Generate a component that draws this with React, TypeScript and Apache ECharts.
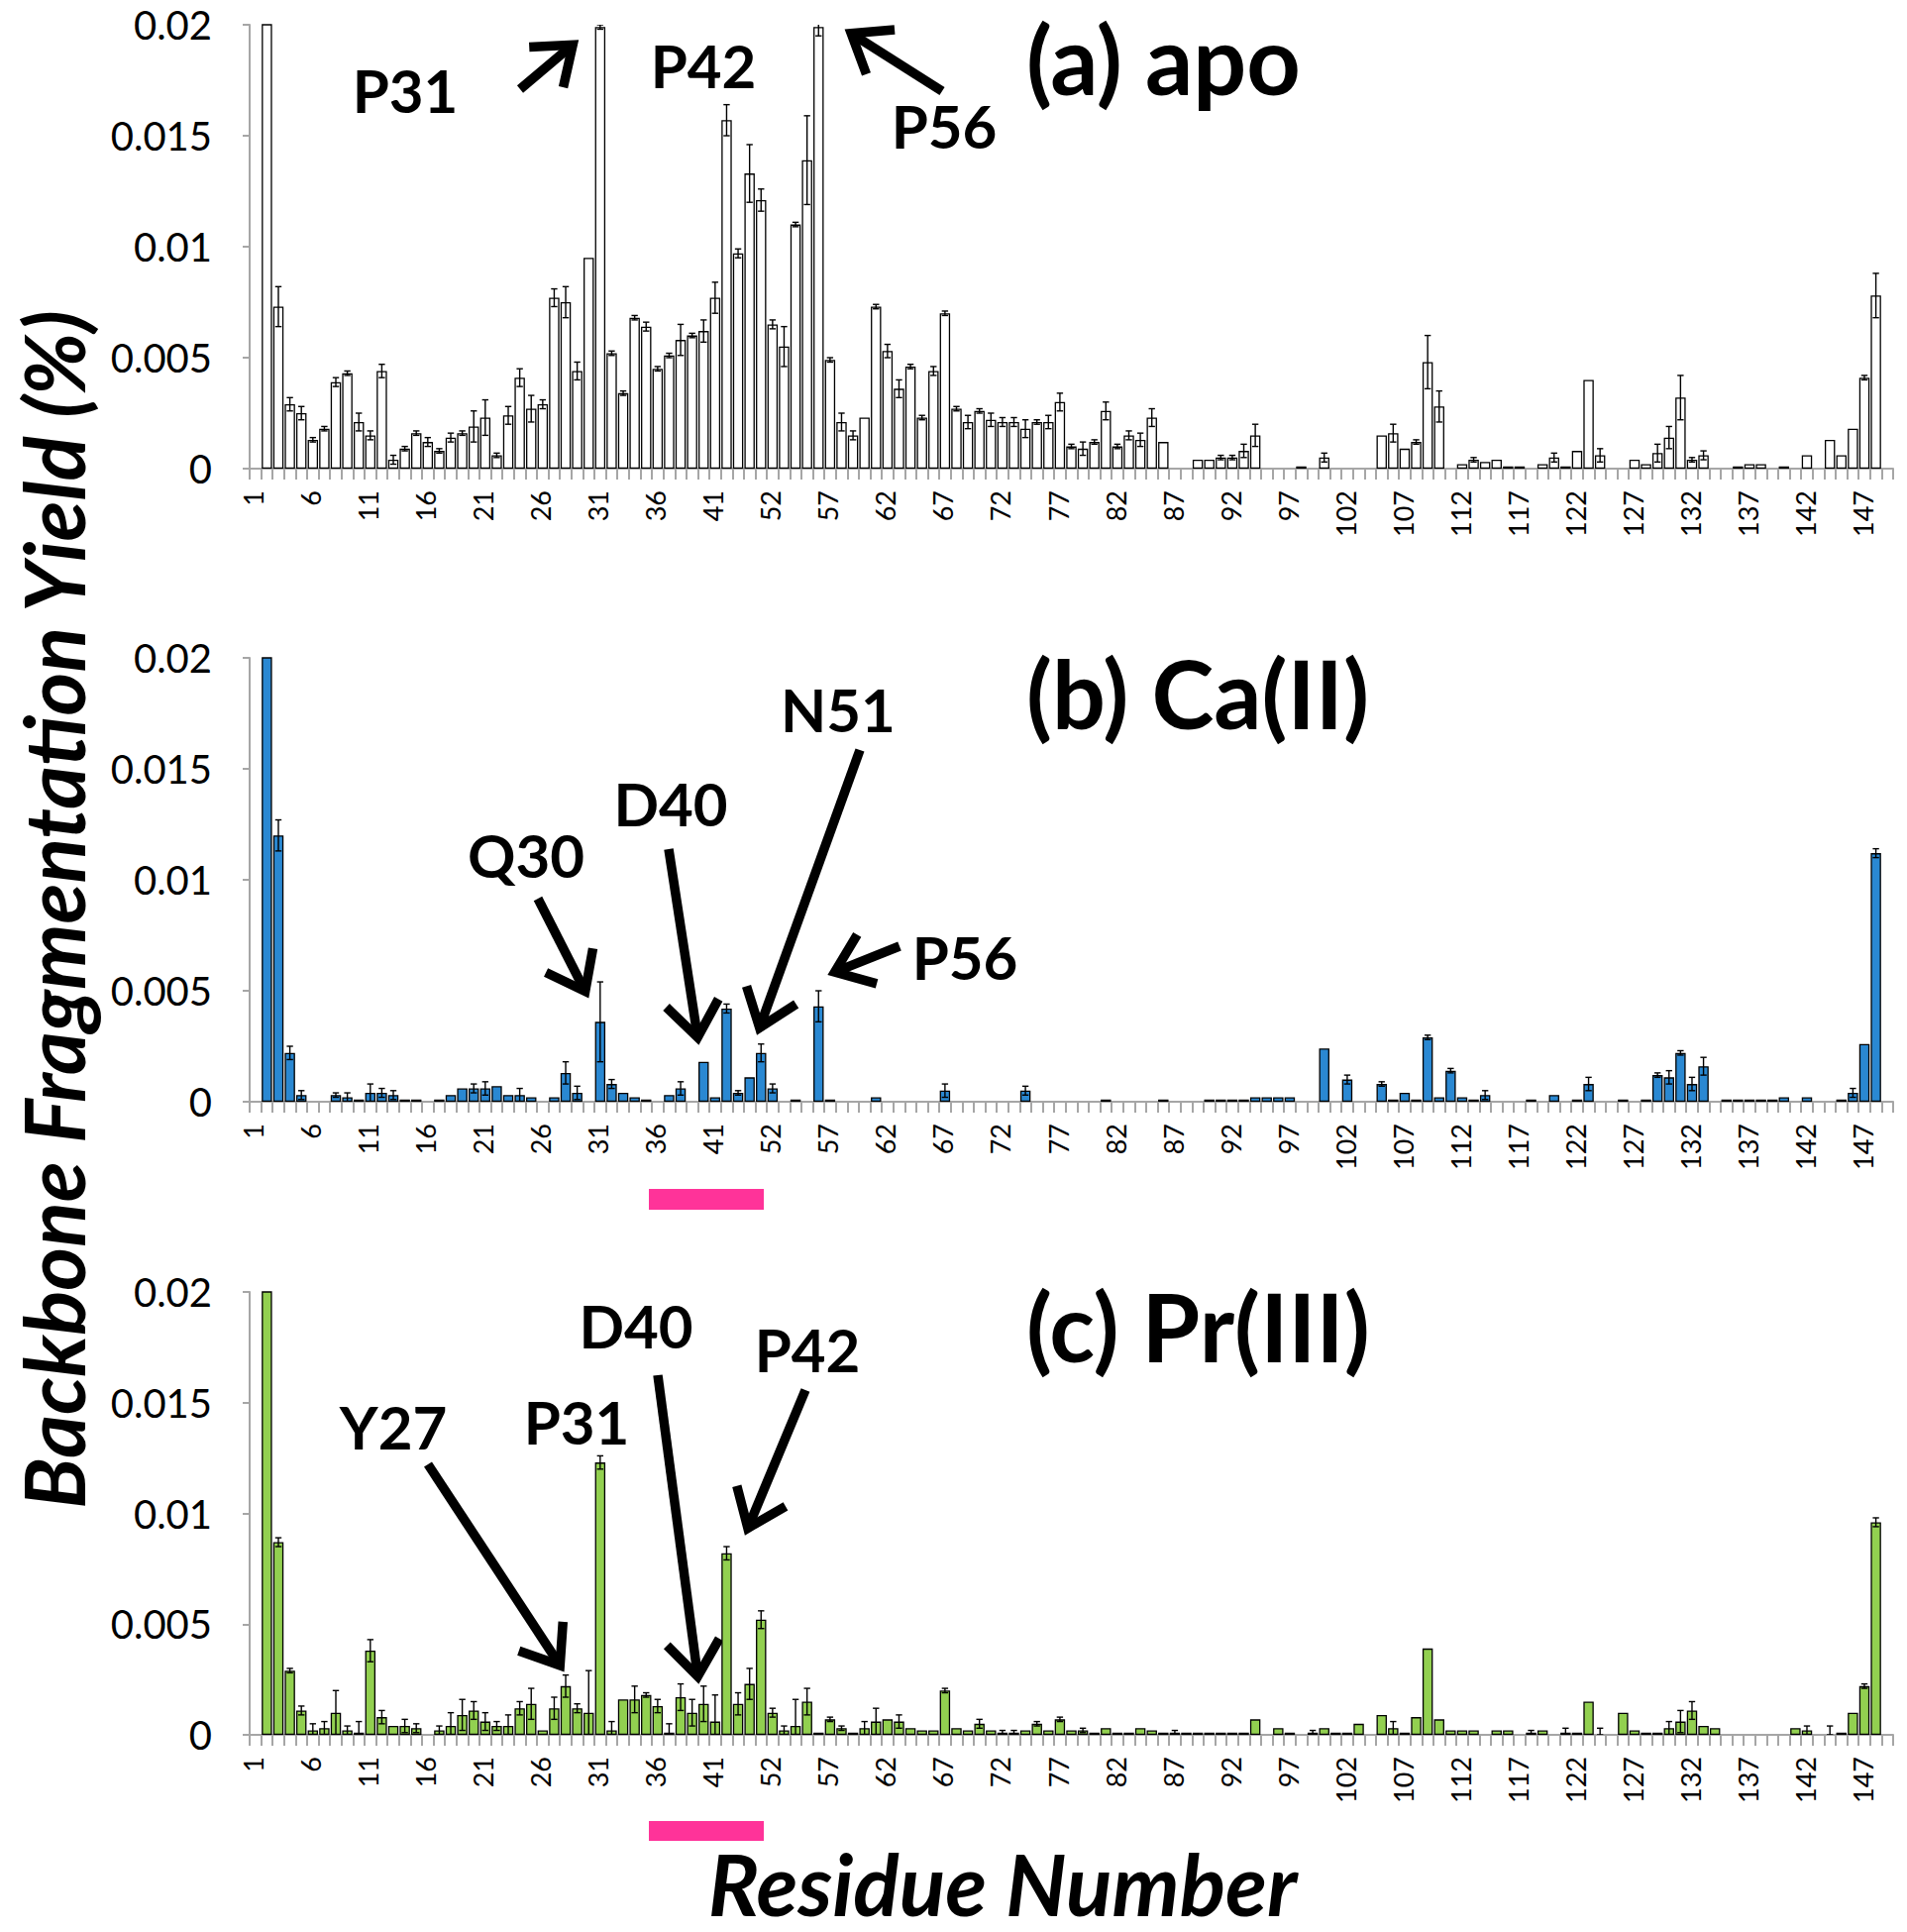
import React, { useEffect, useRef } from 'react';
import * as echarts from 'echarts';

// Residue numbering shown on the category axis (the axis has an empty slot before residue 1)
const residueRanges: number[][] = [[1, 45], [52, 148]];
const yTickLabels = ['0', '0.005', '0.01', '0.015', '0.02'];

// (a) apo — residues in axis order (141 bars)
const apoValues = [
  0.06, 0.0073, 0.0029, 0.0025, 0.0013, 0.0018, 0.0039, 0.0043, 0.0021, 0.0015,
  0.0044, 0.0004, 0.0009, 0.0016, 0.0012, 0.0008, 0.0014, 0.0016, 0.0019, 0.0023,
  0.0006, 0.0024, 0.0041, 0.0027, 0.0029, 0.0077, 0.0075, 0.0044, 0.0095, 0.0199,
  0.0052, 0.0034, 0.0068, 0.0064, 0.0045, 0.0051, 0.0058, 0.006, 0.0062, 0.0077,
  0.0157, 0.0097, 0.0133, 0.0121, 0.0065, 0.0055, 0.011, 0.0139, 0.0199, 0.0049,
  0.0021, 0.0015, 0.0023, 0.0073, 0.0053, 0.0036, 0.0046, 0.0023, 0.0044, 0.007,
  0.0027, 0.0021, 0.0026, 0.0022, 0.0021, 0.0021, 0.0018, 0.0021, 0.0021, 0.003,
  0.001, 0.0009, 0.0012, 0.0026, 0.001, 0.0015, 0.0013, 0.0023, 0.0012, 0,
  0, 0.0004, 0.0004, 0.0005, 0.0005, 0.0008, 0.0015, 0, 0, 0,
  0.0001, 0, 0.0005, 0, 0, 0, 0, 0.0015, 0.0016, 0.0009,
  0.0012, 0.0048, 0.0028, 0, 0.0002, 0.0004, 0.0003, 0.0004, 0.0001, 0.0001,
  0, 0.0002, 0.0005, 0.0001, 0.0008, 0.004, 0.0006, 0, 0, 0.0004,
  0.0002, 0.0007, 0.0014, 0.0032, 0.0004, 0.0006, 0, 0, 0.0001, 0.0002,
  0.0002, 0, 0.0001, 0, 0.0006, 0, 0.0013, 0.0006, 0.0018, 0.0041, 0.0078,
];
const apoErrors = [
  0, 0.0009, 0.0003, 0.0003, 0.0001, 0.0001, 0.0002, 0.0001, 0.0004, 0.0002,
  0.0003, 0.0002, 0.0001, 0.0001, 0.0002, 0.0001, 0.0002, 0.0001, 0.0007, 0.0008,
  0.0001, 0.0004, 0.0004, 0.0006, 0.0002, 0.0004, 0.0007, 0.0004, 0, 0.0001,
  0.0001, 0.0001, 0.0001, 0.0002, 0.0001, 0.0001, 0.0007, 0.0001, 0.0005, 0.0007,
  0.0007, 0.0002, 0.0013, 0.0005, 0.0002, 0.0009, 0.0001, 0.002, 0.0004, 0.0001,
  0.0004, 0.0002, 0, 0.0001, 0.0003, 0.0004, 0.0001, 0.0001, 0.0002, 0.0001,
  0.0001, 0.0003, 0.0001, 0.0003, 0.0002, 0.0002, 0.0004, 0.0001, 0.0003, 0.0004,
  0.0001, 0.0003, 0.0001, 0.0004, 0.0001, 0.0002, 0.0003, 0.0004, 0, 0,
  0, 0, 0, 0.0001, 0.0001, 0.0003, 0.0005, 0, 0, 0,
  0, 0, 0.0002, 0, 0, 0, 0, 0, 0.0004, 0,
  0.0001, 0.0012, 0.0007, 0, 0, 0.0001, 0, 0, 0, 0,
  0, 0, 0.0002, 0, 0, 0, 0.0003, 0, 0, 0,
  0, 0.0004, 0.0005, 0.001, 0.0001, 0.0002, 0, 0, 0, 0,
  0, 0, 0, 0, 0, 0, 0, 0, 0, 0.0001, 0.001,
];

// (b) Ca(II)
const caValues = [
  0.045, 0.012, 0.0022, 0.0003, 0, 0, 0.0003, 0.0002, 0.0001, 0.0004,
  0.0004, 0.0003, 0.0001, 0.0001, 0, 0.0001, 0.0003, 0.0006, 0.0006, 0.0006,
  0.0007, 0.0003, 0.0003, 0.0002, 0, 0.0002, 0.0013, 0.0004, 0, 0.0036,
  0.0008, 0.0004, 0.0002, 0.0001, 0, 0.0003, 0.0006, 0, 0.0018, 0.0002,
  0.0042, 0.0004, 0.0011, 0.0022, 0.0006, 0, 0.0001, 0, 0.0043, 0.0001,
  0, 0, 0, 0.0002, 0, 0, 0, 0, 0, 0.0005,
  0, 0, 0, 0, 0, 0, 0.0005, 0, 0, 0,
  0, 0, 0, 0.0001, 0, 0, 0, 0, 0.0001, 0,
  0, 0, 0.0001, 0.0001, 0.0001, 0.0001, 0.0002, 0.0002, 0.0002, 0.0002,
  0, 0, 0.0024, 0, 0.001, 0, 0, 0.0008, 0.0001, 0.0004,
  0.0001, 0.0029, 0.0002, 0.0014, 0.0002, 0.0001, 0.0003, 0, 0, 0,
  0.0001, 0, 0.0003, 0, 0.0001, 0.0008, 0, 0, 0.0001, 0,
  0.0001, 0.0012, 0.0011, 0.0022, 0.0008, 0.0016, 0, 0.0001, 0.0001, 0.0001,
  0.0001, 0.0001, 0.0002, 0, 0.0002, 0, 0, 0.0001, 0.0004, 0.0026, 0.0112,
];
const caErrors = [
  0, 0.0007, 0.0003, 0.0002, 0, 0, 0.0001, 0.0002, 0, 0.0004,
  0.0002, 0.0002, 0, 0, 0, 0, 0, 0, 0.0002, 0.0003,
  0, 0, 0.0003, 0, 0, 0, 0.0005, 0.0003, 0, 0.0018,
  0.0002, 0, 0, 0, 0, 0, 0.0003, 0, 0, 0,
  0.0002, 0.0001, 0, 0.0004, 0.0002, 0, 0, 0, 0.0007, 0,
  0, 0, 0, 0, 0, 0, 0, 0, 0, 0.0003,
  0, 0, 0, 0, 0, 0, 0.0002, 0, 0, 0,
  0, 0, 0, 0, 0, 0, 0, 0, 0, 0,
  0, 0, 0, 0, 0, 0, 0, 0, 0, 0,
  0, 0, 0, 0, 0.0002, 0, 0, 0.0001, 0, 0,
  0, 0.0001, 0, 0.0001, 0, 0, 0.0002, 0, 0, 0,
  0, 0, 0, 0, 0, 0.0003, 0, 0, 0, 0,
  0, 0.0001, 0.0003, 0.0001, 0.0003, 0.0004, 0, 0, 0, 0,
  0, 0, 0, 0, 0, 0, 0, 0, 0.0002, 0, 0.0002,
];

// (c) Pr(III)
const prValues = [
  0.04, 0.0087, 0.0029, 0.0011, 0.0002, 0.0003, 0.001, 0.0002, 0.0001, 0.0038,
  0.0008, 0.0004, 0.0004, 0.0003, 0, 0.0002, 0.0004, 0.0009, 0.0011, 0.0006,
  0.0004, 0.0004, 0.0012, 0.0014, 0.0002, 0.0012, 0.0022, 0.0012, 0.001, 0.0123,
  0.0002, 0.0016, 0.0016, 0.0018, 0.0013, 0.0001, 0.0017, 0.001, 0.0014, 0.0006,
  0.0082, 0.0014, 0.0023, 0.0052, 0.001, 0.0002, 0.0004, 0.0015, 0.0001, 0.0007,
  0.0003, 0.0001, 0.0003, 0.0006, 0.0007, 0.0006, 0.0003, 0.0002, 0.0002, 0.002,
  0.0003, 0.0002, 0.0005, 0.0002, 0.0001, 0.0001, 0.0002, 0.0005, 0.0002, 0.0007,
  0.0002, 0.0002, 0.0001, 0.0003, 0.0001, 0.0001, 0.0003, 0.0002, 0.0001, 0.0001,
  0.0001, 0.0001, 0.0001, 0.0001, 0.0001, 0.0001, 0.0007, 0, 0.0003, 0.0001,
  0, 0.0001, 0.0003, 0.0001, 0.0001, 0.0005, 0, 0.0009, 0.0003, 0.0001,
  0.0008, 0.0039, 0.0007, 0.0002, 0.0002, 0.0002, 0, 0.0002, 0.0002, 0,
  0.0001, 0.0002, 0, 0.0001, 0.0001, 0.0015, 0, 0, 0.001, 0.0002,
  0.0001, 0.0001, 0.0003, 0.0006, 0.0011, 0.0004, 0.0003, 0, 0, 0,
  0, 0, 0, 0.0003, 0.0002, 0, 0, 0.0001, 0.001, 0.0022, 0.0096,
];
const prErrors = [
  0, 0.0002, 0.0001, 0.0002, 0.0003, 0.0003, 0.001, 0.0002, 0.0005, 0.0005,
  0.0003, 0, 0.0003, 0.0002, 0, 0.0002, 0.0006, 0.0007, 0.0004, 0.0004,
  0.0002, 0.0005, 0.0003, 0.0007, 0, 0.0005, 0.0005, 0.0002, 0.0019, 0.0003,
  0.0004, 0, 0.0006, 0.0001, 0.0003, 0.0004, 0.0006, 0.0006, 0.0008, 0.0012,
  0.0003, 0.0005, 0.0007, 0.0004, 0.0002, 0.0002, 0.0012, 0.0006, 0, 0.0001,
  0.0001, 0, 0.0003, 0.0006, 0, 0.0003, 0, 0, 0, 0.0001,
  0, 0, 0.0002, 0, 0.0001, 0.0001, 0, 0.0001, 0, 0.0001,
  0, 0.0001, 0, 0, 0, 0, 0, 0, 0, 0.0001,
  0, 0, 0, 0, 0, 0, 0, 0, 0, 0,
  0, 0.0001, 0, 0, 0, 0, 0, 0, 0.0003, 0,
  0, 0, 0, 0, 0, 0, 0, 0, 0, 0,
  0.0001, 0, 0, 0.0002, 0, 0, 0.0003, 0, 0, 0,
  0, 0, 0.0003, 0.0005, 0.0004, 0, 0, 0, 0, 0,
  0, 0, 0, 0, 0.0002, 0, 0.0004, 0, 0, 0.0001, 0.0002,
];

const panelTitles = ['(a) apo', '(b) Ca(II)', '(c) Pr(III)'];
const barColors = ['#FFFFFF', '#2A88D2', '#92D050'];

const FONT = 'Lato';
const GRAY = '#a6a6a6';

function buildCategories(): string[] {
  const cats: string[] = [''];
  for (const [a, b] of residueRanges) for (let r = a; r <= b; r++) cats.push(String(r));
  return cats;
}

function arrow(x1: number, y1: number, x2: number, y2: number): any[] {
  const dx = x2 - x1, dy = y2 - y1;
  const L = Math.hypot(dx, dy);
  const ux = dx / L, uy = dy / L;
  const head = 44, ang = 0.65;
  const rot = (a: number) => [
    -(ux * Math.cos(a) - uy * Math.sin(a)),
    -(ux * Math.sin(a) + uy * Math.cos(a)),
  ];
  const [ax, ay] = rot(ang);
  const [bx, by] = rot(-ang);
  const tx = x2 - ux * 5, ty = y2 - uy * 5;
  return [
    { type: 'line', shape: { x1, y1, x2: tx, y2: ty }, style: { stroke: '#000', lineWidth: 9.5 } },
    {
      type: 'polyline',
      shape: { points: [[tx + ax * head, ty + ay * head], [tx, ty], [tx + bx * head, ty + by * head]] },
      style: { stroke: '#000', lineWidth: 9.5, fill: null, lineJoin: 'miter' },
    },
  ];
}

function label(text: string, x: number, y: number, size = 60, align = 'center'): any {
  return {
    type: 'text',
    x,
    y,
    style: {
      text,
      fill: '#000',
      fontFamily: FONT,
      fontWeight: 'bold',
      fontSize: size,
      align,
      verticalAlign: 'middle',
      textAlign: align,
      textVerticalAlign: 'middle',
    },
  };
}

export default function App() {
  const ref = useRef<HTMLDivElement>(null);
  useEffect(() => {
    if (!ref.current) return;
    const chart = echarts.init(ref.current, null, { renderer: 'svg' });
    const categories = buildCategories();
    const valuesSets = [apoValues, caValues, prValues];
    const errorSets = [apoErrors, caErrors, prErrors];
    const grids = [
      { left: 252, right: 14, top: 25, height: 448 },
      { left: 252, right: 14, top: 664, height: 448 },
      { left: 252, right: 14, top: 1304, height: 447 },
    ];

    const xAxis = grids.map((_, g) => ({
      type: 'category',
      gridIndex: g,
      data: categories,
      boundaryGap: true,
      axisLine: { lineStyle: { color: GRAY, width: 2 } },
      axisTick: { show: true, interval: 0, length: 11, lineStyle: { color: GRAY, width: 2 } },
      axisLabel: {
        interval: (index: number) => index >= 1 && (index - 1) % 5 === 0,
        rotate: 90,
        margin: 22,
        fontSize: 27,
        fontFamily: FONT,
        color: '#000',
        verticalAlign: 'bottom',
      },
      splitLine: { show: false },
    }));
    const yAxis = grids.map((_, g) => ({
      type: 'value',
      gridIndex: g,
      min: 0,
      max: 0.02,
      interval: 0.005,
      axisLine: { show: true, lineStyle: { color: GRAY, width: 2 } },
      axisTick: { show: true, length: 7, lineStyle: { color: GRAY, width: 2 } },
      splitLine: { show: false },
      axisLabel: {
        margin: 38,
        fontSize: 40,
        fontFamily: FONT,
        color: '#000',
        formatter: (v: number) => yTickLabels[Math.round(v / 0.005)] ?? '',
      },
    }));

    const series: any[] = [];
    valuesSets.forEach((vals, g) => {
      const barData: any[] = [null, ...vals.map((v) => (v === 0 ? null : v)), null];
      series.push({
        type: 'bar',
        xAxisIndex: g,
        yAxisIndex: g,
        data: barData,
        barCategoryGap: '10%',
        clip: true,
        itemStyle: { color: barColors[g], borderColor: '#000', borderWidth: 1.3 },
        z: 2,
      });
      const errData: any[] = [];
      errorSets[g].forEach((e, i) => {
        if (e > 0) errData.push([i + 1, vals[i], e]);
      });
      series.push({
        type: 'custom',
        xAxisIndex: g,
        yAxisIndex: g,
        clip: true,
        z: 3,
        encode: { x: 0, y: 1 },
        data: errData,
        renderItem: (_p: any, api: any) => {
          const x = api.value(0), v = api.value(1), e = api.value(2);
          const top = api.coord([x, v + e]);
          const bot = api.coord([x, Math.max(0, v - e)]);
          const w = api.size([1, 0])[0] * 0.55;
          const st = { stroke: '#000', lineWidth: 1.4 };
          return {
            type: 'group',
            children: [
              { type: 'line', shape: { x1: top[0], y1: top[1], x2: bot[0], y2: bot[1] }, style: st },
              { type: 'line', shape: { x1: top[0] - w / 2, y1: top[1], x2: top[0] + w / 2, y2: top[1] }, style: st },
              { type: 'line', shape: { x1: bot[0] - w / 2, y1: bot[1], x2: bot[0] + w / 2, y2: bot[1] }, style: st },
            ],
          };
        },
      });
    });

    const graphic: any[] = [
      // panel titles
      label(panelTitles[0], 1036, 59, 95, 'left'),
      label(panelTitles[1], 1036, 699, 95, 'left'),
      label(panelTitles[2], 1036, 1338, 95, 'left'),
      // (a) annotations
      label('P31', 409, 91),
      label('P42', 710, 66),
      label('P56', 953, 127),
      ...arrow(525, 90, 582, 42),
      ...arrow(951, 92, 855, 31),
      // (b) annotations
      label('Q30', 531, 863),
      label('D40', 677, 811),
      label('N51', 846, 716),
      label('P56', 974, 966),
      ...arrow(543, 907, 593, 1005),
      ...arrow(675, 857, 705, 1052),
      ...arrow(868, 757, 765, 1042),
      ...arrow(908, 955, 838, 983),
      // (c) annotations
      label('Y27', 397, 1440),
      label('P31', 582, 1435),
      label('D40', 642, 1338),
      label('P42', 815, 1362),
      ...arrow(432, 1478, 568, 1685),
      ...arrow(664, 1388, 705, 1697),
      ...arrow(813, 1403, 753, 1547),
      // pink region markers
      { type: 'rect', shape: { x: 655, y: 1200, width: 116, height: 21 }, style: { fill: '#FF3399' } },
      { type: 'rect', shape: { x: 655, y: 1838, width: 116, height: 20 }, style: { fill: '#FF3399' } },
      // axis titles
      {
        type: 'text',
        x: 53,
        y: 918,
        rotation: Math.PI / 2,
        style: {
          text: 'Backbone Fragmentation Yield (%)',
          fill: '#000',
          fontFamily: FONT,
          fontWeight: 'bold',
          fontStyle: 'italic',
          fontSize: 84,
          lineHeight: 80,
          align: 'center',
          verticalAlign: 'middle',
          textAlign: 'center',
          textVerticalAlign: 'middle',
        },
      },
      {
        type: 'text',
        x: 1012,
        y: 1900,
        style: {
          text: 'Residue Number',
          fill: '#000',
          fontFamily: FONT,
          fontWeight: 'bold',
          fontStyle: 'italic',
          fontSize: 86,
          lineHeight: 84,
          align: 'center',
          verticalAlign: 'middle',
          textAlign: 'center',
          textVerticalAlign: 'middle',
        },
      },
    ];

    chart.setOption({
      animation: false,
      backgroundColor: '#fff',
      grid: grids,
      xAxis,
      yAxis,
      series,
      graphic,
    });
    return () => chart.dispose();
  }, []);
  return (
    <div
      ref={ref}
      style={{ position: 'fixed', left: 0, top: 0, width: '1925px', height: '1950px', background: '#fff' }}
    />
  );
}
